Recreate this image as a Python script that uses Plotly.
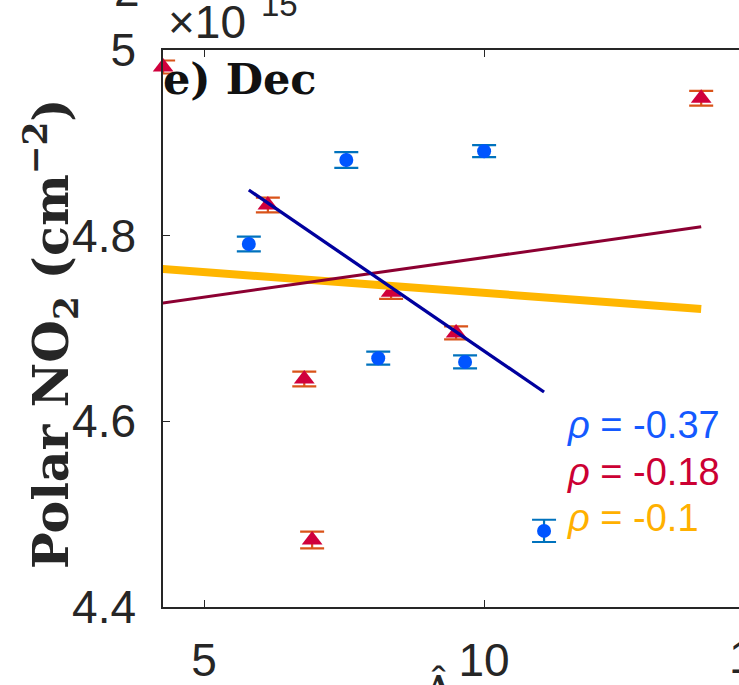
import plotly.graph_objects as go

# ---- data ----
blue_x = [5.80, 7.54, 10.00, 8.11, 9.66, 11.07]
blue_y = [4.791, 4.8815, 4.891, 4.668, 4.664, 4.482]
blue_err = [0.008, 0.0085, 0.0065, 0.007, 0.007, 0.012]

red_x = [4.27, 6.14, 8.34, 6.79, 9.50, 6.93, 13.875]
red_y = [4.9817, 4.833, 4.739, 4.6456, 4.6952, 4.4722, 4.948]
red_err = [0.007, 0.008, 0.007, 0.008, 0.007, 0.009, 0.008]

navy_fit_x = [5.80, 11.07]
navy_fit_y = [4.8492, 4.6316]
maroon_fit_x = [4.25, 13.875]
maroon_fit_y = [4.7274, 4.8095]
yellow_fit_x = [4.25, 13.875]
yellow_fit_y = [4.7642, 4.7209]

rho_labels = ["-0.37", "-0.18", "-0.1"]
rho_colors = ["#1459FF", "#CC0033", "#FFB000"]

y_ticks = [4.4, 4.6, 4.8, 5.0]
y_ticktext = ["4.4", "4.6", "4.8", "5"]
x_ticks = [5, 10]

W, H = 739, 685
L, T, B, R = 163, 50, 78, 0
PW, PH = W - L - R, H - T - B


def px(xp):
    return (xp - L) / PW


def py(yp):
    return (H - B - yp) / PH


fig = go.Figure()

fig.add_trace(go.Scatter(
    x=blue_x, y=blue_y, mode="markers",
    marker=dict(symbol="circle", size=14, color="#0055FF"),
    error_y=dict(type="data", array=blue_err, color="#0072BD", thickness=2.2, width=12),
    cliponaxis=False, showlegend=False))

fig.add_trace(go.Scatter(
    x=red_x, y=red_y, mode="markers",
    marker=dict(symbol="triangle-up", size=18, color="#D0003C"),
    error_y=dict(type="data", array=red_err, color="#D95319", thickness=2.2, width=12),
    cliponaxis=False, showlegend=False))

fig.add_trace(go.Scatter(x=yellow_fit_x, y=yellow_fit_y, mode="lines",
                         line=dict(color="#FFB600", width=8), showlegend=False))
fig.add_trace(go.Scatter(x=maroon_fit_x, y=maroon_fit_y, mode="lines",
                         line=dict(color="#8C0032", width=3), showlegend=False))
fig.add_trace(go.Scatter(x=navy_fit_x, y=navy_fit_y, mode="lines",
                         line=dict(color="#00009E", width=3.3), showlegend=False))

SANS = "Liberation Sans, Arial, sans-serif"
tickfont = dict(family=SANS, size=46, color="#262626")

fig.update_xaxes(range=[4.268, 14.55], tickvals=x_ticks, ticks="inside", ticklen=7,
                 tickwidth=1.3, tickcolor="#262626", showline=True, linecolor="#262626",
                 linewidth=1.5, mirror="ticks", showgrid=False, zeroline=False,
                 tickfont=tickfont, ticklabelstandoff=12)
fig.update_yaxes(range=[4.4, 5.0], tickvals=y_ticks, ticktext=y_ticktext, ticks="inside",
                 ticklen=7, tickwidth=1.3, tickcolor="#262626", showline=True,
                 linecolor="#262626", linewidth=1.5, mirror=False, showgrid=False,
                 zeroline=False, tickfont=tickfont, ticklabelstandoff=16)

ann = []
# panel label
ann.append(dict(text="<b>e) Dec</b>", x=px(161), y=py(79), xref="paper", yref="paper",
                xanchor="left", yanchor="middle", showarrow=False,
                font=dict(family="DejaVu Serif, serif", size=43, color="#111111")))
# exponent
ann.append(dict(text="×10", x=px(166), y=py(22), xref="paper", yref="paper",
                xanchor="left", yanchor="middle", showarrow=False,
                font=dict(family=SANS, size=46, color="#262626")))
ann.append(dict(text="15", x=px(259), y=py(4), xref="paper", yref="paper",
                xanchor="left", yanchor="middle", showarrow=False,
                font=dict(family=SANS, size=33, color="#262626")))
# partial tick label from panel above
ann.append(dict(text="2", x=px(142), y=py(-10), xref="paper", yref="paper",
                xanchor="right", yanchor="middle", showarrow=False,
                font=dict(family=SANS, size=46, color="#262626")))
# partial x tick label 15
ann.append(dict(text="15", x=px(727), y=py(657), xref="paper", yref="paper",
                xanchor="left", yanchor="middle", showarrow=False,
                font=dict(family=SANS, size=46, color="#262626")))
# y axis title
ann.append(dict(text="<b>Polar NO<sub>2</sub> (cm<sup>−2</sup>)</b>", x=px(50), y=py(334),
                xref="paper", yref="paper", xanchor="center", yanchor="middle",
                textangle=-90, showarrow=False,
                font=dict(family="DejaVu Serif, serif", size=49, color="#262626")))
# x axis title (cut off)
ann.append(dict(text="Â", x=px(438), y=py(663), xref="paper", yref="paper",
                xanchor="center", yanchor="top", showarrow=False,
                font=dict(family="DejaVu Serif, serif", size=46, color="#262626")))
# correlation labels
for i, (lab, col) in enumerate(zip(rho_labels, rho_colors)):
    ann.append(dict(text="<i>ρ</i> = " + lab, x=px(565), y=py(425 + 46.5 * i),
                    xref="paper", yref="paper", xanchor="left", yanchor="middle",
                    showarrow=False,
                    font=dict(family=SANS, size=38, color=col)))

fig.update_layout(width=W, height=H, margin=dict(l=L, r=R, t=T, b=B, pad=0),
                  paper_bgcolor="white", plot_bgcolor="white", annotations=ann)

fig.write_html("out.html")
